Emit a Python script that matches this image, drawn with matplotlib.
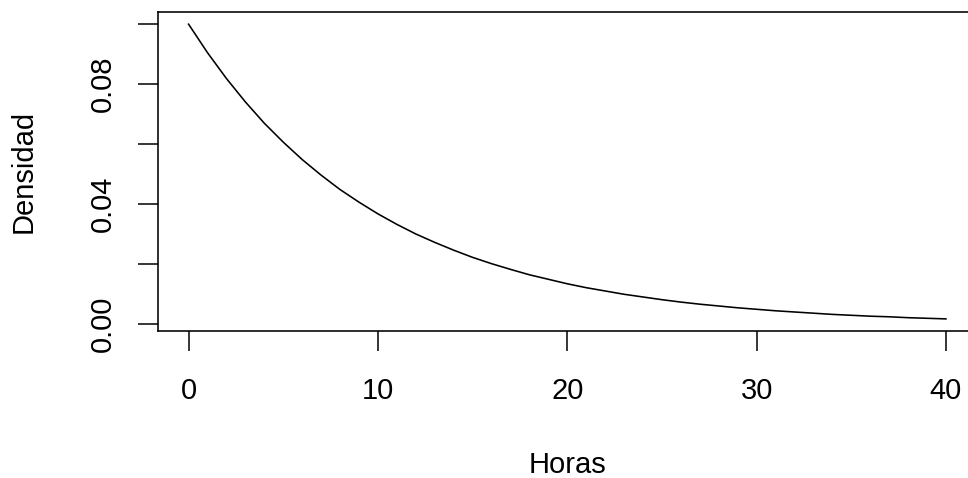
import matplotlib
matplotlib.use("Agg")
import matplotlib.pyplot as plt

# density, one value per hour
horas = list(range(0, 41))
densidad = [0.1000, 0.0905, 0.0819, 0.0741, 0.0670, 0.0607, 0.0549, 0.0497,
            0.0449, 0.0407, 0.0368, 0.0333, 0.0301, 0.0273, 0.0247, 0.0223,
            0.0202, 0.0183, 0.0165, 0.0150, 0.0135, 0.0122, 0.0111, 0.0100,
            0.0091, 0.0082, 0.0074, 0.0067, 0.0061, 0.0055, 0.0050, 0.0045,
            0.0041, 0.0037, 0.0033, 0.0030, 0.0027, 0.0025, 0.0022, 0.0020,
            0.0018]

x_ticks = [0, 10, 20, 30, 40]
y_ticks = [0.00, 0.02, 0.04, 0.06, 0.08, 0.10]
y_labels = ["0.00", "", "0.04", "", "0.08", ""]

plt.rcParams["font.family"] = ["Liberation Sans", "DejaVu Sans"]

fig = plt.figure(figsize=(9.68, 4.78), dpi=100)
ax = fig.add_axes([0.1635, 0.3082, 0.845, 0.6657])

ax.plot(horas, densidad, color="black", linewidth=1.15)

ax.set_xlim(-1.6, 41.6)
ax.set_ylim(-0.00213, 0.1039)

ax.set_xticks(x_ticks)
ax.set_xticklabels([str(t) for t in x_ticks])
ax.set_yticks(y_ticks)
ax.set_yticklabels(y_labels, rotation=90, va="center")

ax.tick_params(axis="both", direction="out", length=14.5, width=1.1,
               labelsize=21, color="black")
ax.tick_params(axis="x", pad=18.5)
ax.tick_params(axis="y", pad=15)

for s in ["left", "bottom", "top"]:
    ax.spines[s].set_linewidth(1.15)
ax.spines["right"].set_visible(False)

ax.set_xlabel("Horas", fontsize=21, labelpad=33.5)
ax.set_ylabel("Densidad", fontsize=21, labelpad=37)

fig.savefig("out.png", dpi=100)
